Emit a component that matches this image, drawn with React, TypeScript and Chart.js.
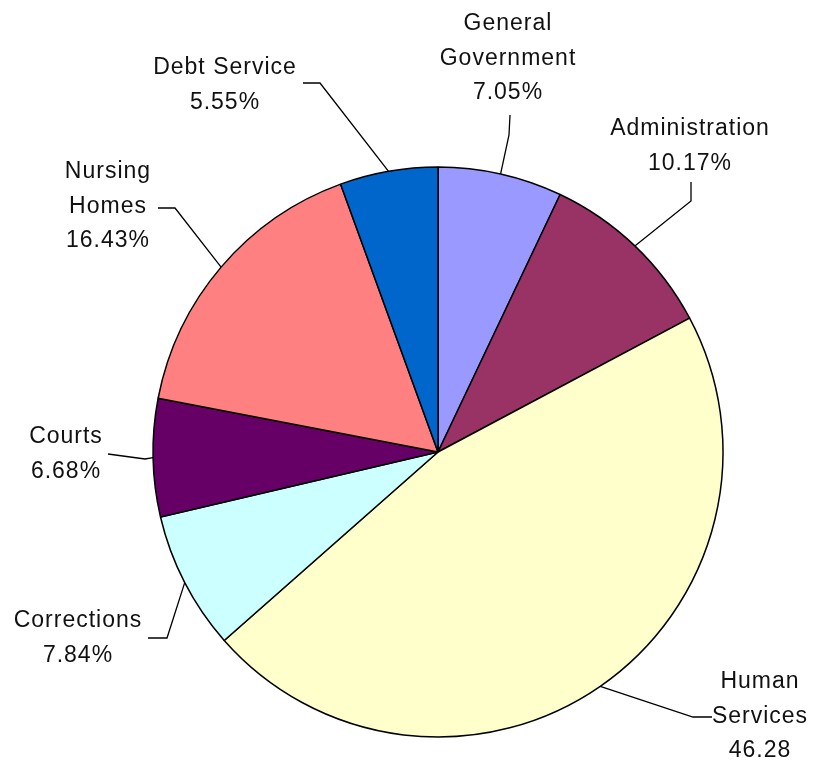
import React, { useEffect, useRef } from "react";
import { Chart, registerables } from "chart.js";

Chart.register(...registerables);

const categories = [
  "General\nGovernment",
  "Administration",
  "Human\nServices",
  "Corrections",
  "Courts",
  "Nursing\nHomes",
  "Debt Service",
];
const values = [7.05, 10.17, 46.28, 7.84, 6.68, 16.43, 5.55];
const percentSign = [true, true, false, true, true, true, true];
const colors = ["#9999FF", "#993366", "#FFFFCC", "#CCFFFF", "#660066", "#FF8080", "#0066CC"];

// label placement relative to pie centre (px): text centre x, first line y, elbow, line end
const labelLayout = [
  { tx: 70, ty: -428, ex: 71, ey: -317, lx: 72, ly: -337 },
  { tx: 252, ty: -323, ex: 253, ey: -251, lx: 253, ly: -270 },
  { tx: 322, ty: 230, ex: 255, ey: 265, lx: 274, ly: 265 },
  { tx: -360, ty: 169, ex: -271, ey: 186, lx: -290, ly: 186 },
  { tx: -372, ty: -15, ex: -293, ey: 7, lx: -330, ly: 2 },
  { tx: -330, ty: -280, ex: -263, ey: -244, lx: -280, ly: -244 },
  { tx: -213, ty: -384, ex: -118, ey: -369, lx: -135, ly: -369 },
];

const leaderPlugin = {
  id: "leaderLabels",
  afterDatasetsDraw(chart: any) {
    const ctx = chart.ctx as CanvasRenderingContext2D;
    const meta = chart.getDatasetMeta(0);
    ctx.save();
    meta.data.forEach((arc: any, i: number) => {
      const p = arc.getProps(["x", "y", "startAngle", "endAngle", "outerRadius"], true);
      const mid = (p.startAngle + p.endAngle) / 2;
      const sx = p.x + Math.cos(mid) * p.outerRadius;
      const sy = p.y + Math.sin(mid) * p.outerRadius;
      const L = labelLayout[i];
      ctx.strokeStyle = "#000";
      ctx.lineWidth = 1.3;
      ctx.beginPath();
      ctx.moveTo(sx, sy);
      ctx.lineTo(p.x + L.ex, p.y + L.ey);
      ctx.lineTo(p.x + L.lx, p.y + L.ly);
      ctx.stroke();

      const lines = categories[i].split("\n");
      lines.push(values[i].toFixed(2) + (percentSign[i] ? "%" : ""));
      ctx.fillStyle = "#111";
      ctx.font = '23px "Liberation Sans", Arial, sans-serif';
      (ctx as any).letterSpacing = "1px";
      ctx.textAlign = "center";
      ctx.textBaseline = "middle";
      lines.forEach((t, k) => {
        ctx.fillText(t, p.x + L.tx, p.y + L.ty + k * 34.5);
      });
    });
    ctx.restore();
  },
};

export default function App() {
  const ref = useRef<HTMLCanvasElement | null>(null);
  useEffect(() => {
    if (!ref.current) return;
    const chart = new Chart(ref.current, {
      type: "pie",
      data: {
        labels: categories.map((c) => c.replace("\n", " ")),
        datasets: [
          {
            data: values,
            backgroundColor: colors,
            borderColor: "#000",
            borderWidth: 1.5,
            radius: 285,
          } as any,
        ],
      },
      options: {
        responsive: false,
        animation: false,
        layout: { padding: { left: 62, right: 0, top: 143, bottom: 0 } },
        plugins: { legend: { display: false }, tooltip: { enabled: false } },
      },
      plugins: [leaderPlugin],
    });
    return () => chart.destroy();
  }, []);
  return (
    <div style={{ position: "absolute", left: 0, top: 0, width: 814, height: 761, background: "#fff" }}>
      <canvas ref={ref} width={814} height={761} />
    </div>
  );
}
